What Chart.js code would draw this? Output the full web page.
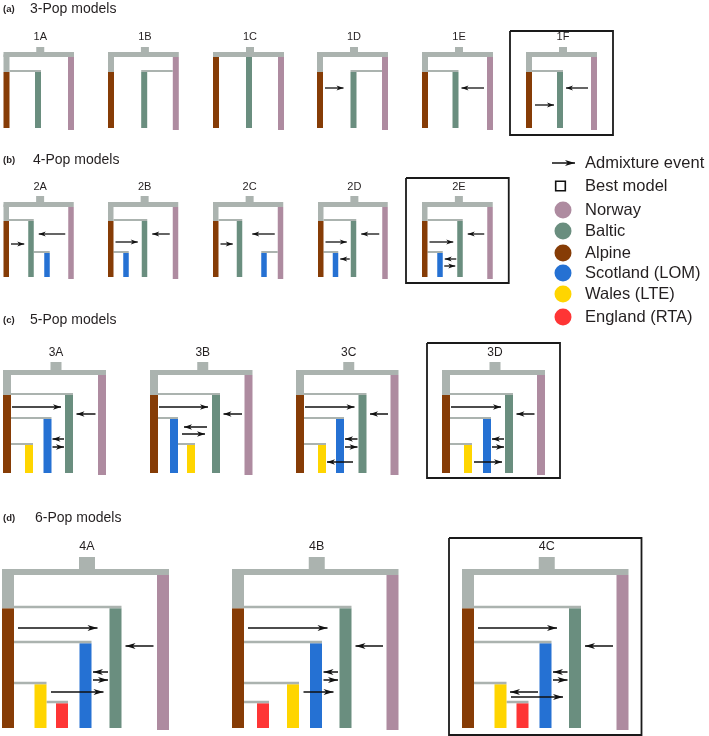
<!DOCTYPE html>
<html>
<head>
<meta charset="utf-8">
<script src="https://cdn.jsdelivr.net/npm/chart.js@4.4.1/dist/chart.umd.min.js"></script>
<style>
  html, body { margin: 0; padding: 0; background: #fff; }
  canvas { display: block; }
</style>
</head>
<body>
<canvas id="chart" width="709" height="736"></canvas>
<script>
// populations
const popKeys = ['N', 'B', 'A', 'S', 'W', 'E'];
const popNames = ['Norway', 'Baltic', 'Alpine', 'Scotland (LOM)', 'Wales (LTE)', 'England (RTA)'];
const popColors = ['#ae8ba0', '#6a8e7f', '#863c06', '#2571d3', '#ffd500', '#fe3535'];
const GRAY = '#abb3af';
const INK = '#231f20';

const panelTags = ['(a)', '(b)', '(c)', '(d)'];
const panelTitles = ['3-Pop models', '4-Pop models', '5-Pop models', '6-Pop models'];
const panelModels = [
    ['1A', '1B', '1C', '1D', '1E', '1F'],
    ['2A', '2B', '2C', '2D', '2E'],
    ['3A', '3B', '3C', '3D'],
    ['4A', '4B', '4C'],
];
const bestModels = ['1F', '2E', '3D', '4C'];
const legendItems = ['Admixture event', 'Best model'];

// tree topology: pop -> [parent ('' = root), split level]
const trees = {
    '1A': { A: ['', 1], B: ['A', 1], N: ['', 0] },
    '1B': { A: ['', 1], B: ['N', 1], N: ['', 0] },
    '1C': { A: ['', 0], B: ['', 0], N: ['', 0] },
    '1D': { A: ['', 1], B: ['N', 1], N: ['', 0] },
    '1E': { A: ['', 1], B: ['A', 1], N: ['', 0] },
    '1F': { A: ['', 1], B: ['A', 1], N: ['', 0] },
    '2A': { A: ['', 1], B: ['A', 1], S: ['B', 2], N: ['', 0] },
    '2B': { A: ['', 1], B: ['A', 1], S: ['A', 2], N: ['', 0] },
    '2C': { A: ['', 1], B: ['A', 1], S: ['N', 2], N: ['', 0] },
    '2D': { A: ['', 1], B: ['A', 1], S: ['A', 2], N: ['', 0] },
    '2E': { A: ['', 1], B: ['A', 1], S: ['A', 2], N: ['', 0] },
    '3A': { A: ['', 1], B: ['A', 1], S: ['A', 2], W: ['A', 3], N: ['', 0] },
    '3B': { A: ['', 1], B: ['A', 1], S: ['A', 2], W: ['S', 3], N: ['', 0] },
    '3C': { A: ['', 1], B: ['A', 1], S: ['A', 2], W: ['A', 3], N: ['', 0] },
    '3D': { A: ['', 1], B: ['A', 1], S: ['A', 2], W: ['A', 3], N: ['', 0] },
    '4A': { A: ['', 1], B: ['A', 1], S: ['A', 2], W: ['A', 3], E: ['W', 4], N: ['', 0] },
    '4B': { A: ['', 1], B: ['A', 1], S: ['A', 2], W: ['A', 3], E: ['A', 4], N: ['', 0] },
    '4C': { A: ['', 1], B: ['A', 1], S: ['A', 2], W: ['A', 3], E: ['W', 4], N: ['', 0] },
};

// admixture events: [source, target, depth (y)]
const admix = {
    '1D': [['A', 'B', 88]],
    '1E': [['N', 'B', 88]],
    '1F': [['N', 'B', 88], ['A', 'B', 105]],
    '2A': [['N', 'B', 234], ['A', 'B', 244]],
    '2B': [['N', 'B', 234], ['A', 'B', 242]],
    '2C': [['N', 'B', 234], ['A', 'B', 244]],
    '2D': [['N', 'B', 234], ['A', 'B', 242], ['B', 'S', 259]],
    '2E': [['N', 'B', 234], ['A', 'B', 242], ['B', 'S', 259], ['S', 'B', 266]],
    '3A': [['A', 'B', 407], ['N', 'B', 414], ['B', 'S', 439], ['S', 'B', 447]],
    '3B': [['A', 'B', 407], ['N', 'B', 414], ['B', 'S', 427], ['S', 'B', 434]],
    '3C': [['A', 'B', 407], ['N', 'B', 414], ['B', 'S', 439], ['S', 'B', 447], ['B', 'W', 462]],
    '3D': [['A', 'B', 407], ['N', 'B', 414], ['B', 'S', 439], ['S', 'B', 447], ['W', 'B', 462]],
    '4A': [['A', 'B', 628], ['N', 'B', 646], ['B', 'S', 672], ['S', 'B', 680], ['W', 'B', 692]],
    '4B': [['A', 'B', 628], ['N', 'B', 646], ['B', 'S', 672], ['S', 'B', 680], ['W', 'B', 692]],
    '4C': [['A', 'B', 628], ['N', 'B', 646], ['B', 'S', 672], ['S', 'B', 680], ['S', 'W', 692], ['W', 'B', 697]],
};

// ---- layout (positions / sizes) ----
// column centres, offset from each model's left edge
const colX = {
    '1A': { A: 3, B: 34.5, N: 67.5 },
    '1B': { A: 3, B: 36.2, N: 67.8 },
    '1C': { A: 3, B: 36, N: 68 },
    '1D': { A: 3, B: 36.5, N: 68 },
    '1E': { A: 3, B: 33.5, N: 68 },
    '1F': { A: 3, B: 34, N: 68 },
    '2A': { A: 2.75, B: 27.5, S: 43.5, N: 67.5 },
    '2B': { A: 2.75, S: 18, B: 36.5, N: 67.5 },
    '2C': { A: 2.75, B: 26.5, S: 51, N: 67.5 },
    '2D': { A: 2.75, S: 17.5, B: 35.5, N: 67 },
    '2E': { A: 2.75, S: 18, B: 38, N: 68 },
    '3A': { A: 4, W: 26, S: 44.5, B: 66, N: 99 },
    '3B': { A: 4, S: 24, W: 41, B: 66, N: 98.5 },
    '3C': { A: 4, W: 26, S: 44, B: 66.5, N: 98.5 },
    '3D': { A: 4, W: 26, S: 45, B: 67, N: 99 },
    '4A': { A: 6, W: 38.5, E: 60, S: 83.5, B: 113.5, N: 161 },
    '4B': { A: 6, E: 31, W: 61, S: 84, B: 113.5, N: 160.5 },
    '4C': { A: 6, W: 38.5, E: 60.5, S: 83.5, B: 113, N: 160.5 },
};

const panelLayout = [
    { x0: [3.5, 108, 213, 317, 422, 526], barW: 6, top: 54.5, topW: 5, stubW: 8, stubH: 5,
      levels: [0, 71], linkW: 2, bottom: 128, titleX: 30, titleY: 9, labelY: 37, labelSize: 11,
      boxY: [31, 135], boxPad: 16, head: [7, 5], arrowW: 1.3, gaps: { def: [3, 3] } },
    { x0: [3.5, 108, 213, 318, 422], barW: 5.5, top: 204.5, topW: 5, stubW: 8, stubH: 6,
      levels: [0, 220, 252], linkW: 2, bottom: 277, titleX: 33, titleY: 160, labelY: 187, labelSize: 11,
      boxY: [178, 283], boxPad: 16, head: [7, 5], arrowW: 1.3, gaps: { def: [2, 4], 'N>B': [3, 5], 'B>S': [1, 2], 'S>B': [1.5, 2] } },
    { x0: [3, 150, 296, 442], barW: 8, top: 372.5, topW: 5, stubW: 11, stubH: 8,
      levels: [0, 394, 418, 444], linkW: 2, bottom: 473, titleX: 30, titleY: 320, labelY: 353, labelSize: 12,
      boxY: [343, 478], boxPad: 15, head: [8, 5.5], arrowW: 1.5,
      gaps: { def: [1, 4], 'N>B': [2.5, 3.5], 'B>S': [1, 1], 'S>B': [1, 1], 'B>W': [5.5, 1], 'W>B': [2, 3] } },
    { x0: [2, 232, 462], barW: 12, top: 572, topW: 6, stubW: 16, stubH: 12,
      levels: [0, 607, 642, 683, 702], linkW: 2.5, bottom: 728, titleX: 35, titleY: 518, labelY: 547, labelSize: 12.5,
      boxY: [538, 735], boxPad: 13, head: [10, 6], arrowW: 1.5,
      gaps: { def: [3.5, 4], 'A>B': [4, 12], 'B>S': [1.5, 1.5], 'S>B': [1.5, 1.5], 'W>B': [4.5, 6], 'S>W': [1.5, 3.5] } },
];
const gapOverride = { '1D:A>B': [2, 7], '2C:N>B': [3, 10], '3B:B>S': [5, 6], '3B:S>B': [4, 7] };

const legendX = { arrow: [552, 575], mark: 563, text: 585 };
const legendY = [163, 186, 210, 231, 253, 273, 294, 317];

// ---- build datasets ----
// order: bars/connectors = 2 (drawn first), arrows/boxes = 0 (drawn on top)
const datasets = [];
const texts = [];

const seg = (x1, y1, x2, y2, color, width, extra) => {
    datasets.push(Object.assign({
        data: [{ x: x1, y: y1 }, { x: x2, y: y2 }],
        showLine: true,
        borderColor: color,
        borderWidth: width,
        borderCapStyle: 'butt',
        pointRadius: 0,
        pointHoverRadius: 0,
        order: 2,
    }, extra || {}));
};
const popColor = k => popColors[popKeys.indexOf(k)];

panelModels.forEach((models, p) => {
    const L = panelLayout[p];
    const hw = L.barW / 2;
    texts.push({ t: panelTags[p], x: 3, y: L.titleY, font: 'bold 9.5px', align: 'left' });
    texts.push({ t: panelTitles[p], x: L.titleX, y: L.titleY, font: '14px', align: 'left' });

    models.forEach((m, i) => {
        const x0 = L.x0[i];
        const cx = colX[m];
        const tree = trees[m];
        const keys = Object.keys(cx);
        const xs = keys.map(k => x0 + cx[k]);
        const left = Math.min(...xs) - hw;
        const right = Math.max(...xs) + hw;
        const mid = (left + right) / 2 + 1.5;
        const topEdge = L.top - L.topW / 2;

        // root: stub + top bar
        seg(mid, topEdge, mid, topEdge - L.stubH, GRAY, L.stubW);
        seg(left, L.top, right, L.top, GRAY, L.topW);

        keys.forEach(k => {
            const [parent, lev] = tree[k];
            const x = x0 + cx[k];
            const start = lev === 0 ? L.top + L.topW / 2 : L.levels[lev] + L.linkW / 2;
            if (parent === '' && lev > 0) seg(x, L.top, x, start, GRAY, L.barW);
            if (parent !== '') {
                const px = x0 + cx[parent];
                const y = L.levels[lev];
                if (x > px) seg(px + hw, y, x + hw, y, GRAY, L.linkW);
                else seg(x - hw, y, px - hw, y, GRAY, L.linkW);
            }
            const end = k === 'N' ? L.bottom + 2 : L.bottom;
            seg(x, start, x, end, popColor(k), L.barW);
        });

        (admix[m] || []).forEach(([s, t, y]) => {
            const key = s + '>' + t;
            const [gt, gh] = gapOverride[m + ':' + key] || L.gaps[key] || L.gaps.def;
            const sx = x0 + cx[s], tx = x0 + cx[t];
            const dir = tx > sx ? 1 : -1;
            const tail = sx + dir * (hw + gt);
            const head = tx - dir * (hw + gh);
            seg(tail, y, head, y, '#111', L.arrowW, { head: L.head, order: 0 });
        });

        if (bestModels.includes(m)) {
            const bl = left - L.boxPad, br = right + L.boxPad;
            const [bt, bb] = L.boxY;
            datasets.push({
                data: [{ x: bl, y: bt }, { x: br, y: bt }, { x: br, y: bb }, { x: bl, y: bb }, { x: bl, y: bt }],
                showLine: true,
                borderColor: '#1a1a1a',
                borderWidth: 1.8,
                borderJoinStyle: 'miter',
                pointRadius: 0,
                pointHoverRadius: 0,
                order: 0,
            });
        }

        texts.push({ t: m, x: mid, y: L.labelY, font: L.labelSize + 'px', align: 'center' });
    });
});

// legend marks
seg(legendX.arrow[0], legendY[0], legendX.arrow[1], legendY[0], '#111', 1.5, { head: [10, 6], order: 0 });
datasets.push({
    data: [{ x: legendX.mark - 2.5, y: legendY[1] }],
    pointStyle: 'rect',
    pointRadius: 6.8,
    pointBorderWidth: 1.6,
    pointBorderColor: '#111',
    pointBackgroundColor: '#fff',
    order: 0,
});
datasets.push({
    data: popKeys.map((k, i) => ({ x: legendX.mark, y: legendY[i + 2] })),
    pointStyle: 'circle',
    pointRadius: 8.5,
    pointBorderWidth: 0,
    pointBackgroundColor: popColors,
    order: 0,
});
legendItems.concat(popNames).forEach((t, i) => {
    texts.push({ t, x: legendX.text, y: legendY[i], font: '16.5px', align: 'left' });
});

// ---- plugins ----
const arrowHeads = {
    id: 'arrowHeads',
    afterDatasetsDraw(chart) {
        const ctx = chart.ctx;
        chart.data.datasets.forEach((ds, i) => {
            if (!ds.head) return;
            const pts = chart.getDatasetMeta(i).data;
            const a = pts[0], b = pts[1];
            const ang = Math.atan2(b.y - a.y, b.x - a.x);
            const [len, w] = ds.head;
            ctx.save();
            ctx.translate(b.x, b.y);
            ctx.rotate(ang);
            ctx.beginPath();
            ctx.moveTo(0, 0);
            ctx.lineTo(-len, -w / 2);
            ctx.lineTo(-len * 0.72, 0);
            ctx.lineTo(-len, w / 2);
            ctx.closePath();
            ctx.fillStyle = ds.borderColor;
            ctx.fill();
            ctx.restore();
        });
    },
};

const labels = {
    id: 'labels',
    afterDraw(chart) {
        const ctx = chart.ctx;
        const sx = chart.scales.x, sy = chart.scales.y;
        ctx.save();
        ctx.fillStyle = INK;
        ctx.textBaseline = 'middle';
        texts.forEach(o => {
            ctx.font = o.font + ' "Liberation Sans", Arial, Helvetica, sans-serif';
            ctx.textAlign = o.align;
            ctx.fillText(o.t, sx.getPixelForValue(o.x), sy.getPixelForValue(o.y));
        });
        ctx.restore();
    },
};

new Chart(document.getElementById('chart'), {
    type: 'scatter',
    data: { datasets },
    options: {
        responsive: false,
        animation: false,
        events: [],
        layout: { autoPadding: false, padding: 0 },
        scales: {
            x: { type: 'linear', min: 0, max: 709, display: false },
            y: { type: 'linear', min: 0, max: 736, reverse: true, display: false },
        },
        plugins: {
            legend: { display: false },
            tooltip: { enabled: false },
        },
    },
    plugins: [arrowHeads, labels],
});
</script>
</body>
</html>
